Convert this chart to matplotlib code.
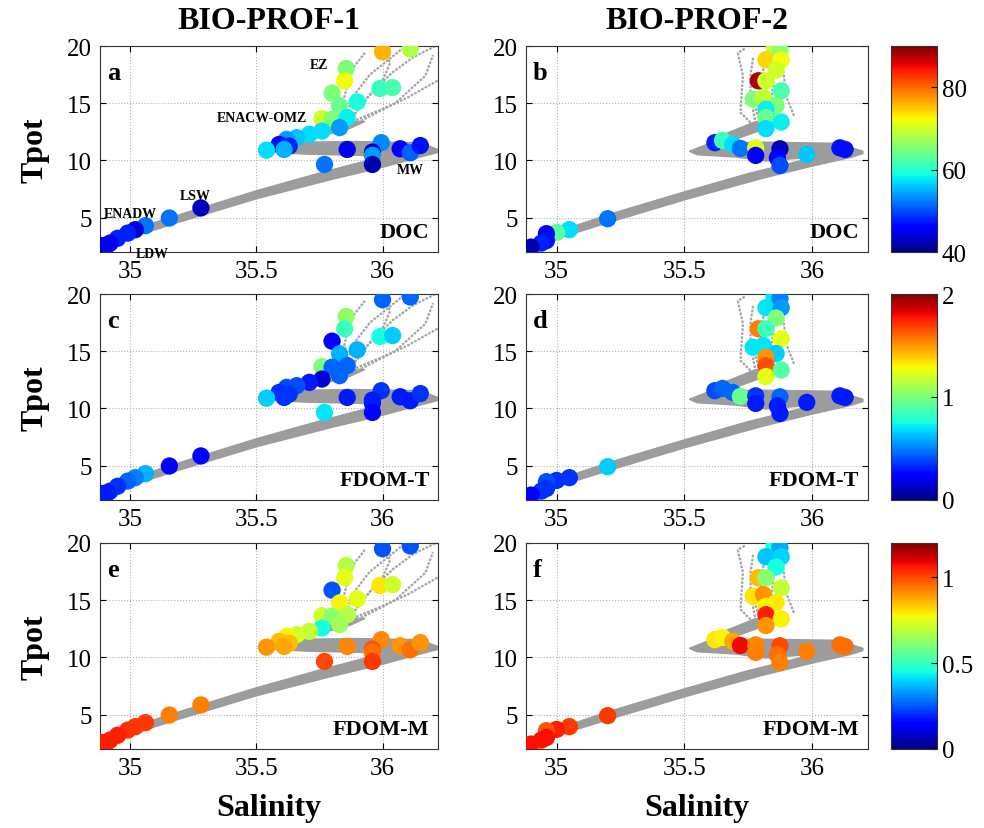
import matplotlib
matplotlib.use("Agg")
import matplotlib.pyplot as plt

plt.rcParams['font.family'] = ['Liberation Serif', 'DejaVu Serif']

# ---- BIO-PROF-1 samples ----
sal1 = [36.00, 36.11, 35.856, 35.85, 35.80, 35.99, 36.04, 35.83, 35.90, 35.76,
        35.80, 35.86, 35.83, 35.76, 35.71, 35.66, 35.62, 35.59, 35.63, 35.54,
        35.61, 35.86, 35.995, 35.96, 35.96, 35.96, 35.77, 36.07, 36.11, 36.15,
        35.28, 35.155, 35.06, 35.02, 34.99, 34.95, 34.92, 34.89, 34.91]
tpot1 = [19.5, 19.74, 18.04, 16.96, 15.88, 16.29, 16.37, 14.77, 15.12, 13.65,
         13.6, 13.74, 12.87, 12.57, 12.28, 11.99, 11.84, 11.4, 11.25, 10.9,
         10.96, 10.96, 11.55, 10.73, 10.44, 9.65, 9.65, 11.02, 10.67, 11.3,
         5.85, 4.97, 4.3, 3.95, 3.65, 3.2, 2.78, 2.57, 2.63]
doc1 = [76, 68, 65, 72, 65, 61, 62, 64, 59, 70,
        65, 58, 54, 57, 57, 56, 54, 47, 48, 57,
        55, 45, 53, 44, 54, 42, 52, 46, 51, 47,
        43, 52, 52, 44, 48, 48, 46, 43, 45]
fdomt1 = [0.45, 0.45, 1.05, 0.85, 0.25, 0.75, 0.65, 0.6, 0.6, 1.0,
          0.45, 0.45, 0.45, 0.15, 0.3, 0.4, 0.4, 0.35, 0.35, 0.65,
          0.35, 0.3, 0.35, 0.3, 0.3, 0.25, 0.7, 0.3, 0.3, 0.35,
          0.25, 0.25, 0.6, 0.5, 0.45, 0.35, 0.35, 0.3, 0.3]
fdomm1 = [0.25, 0.25, 0.68, 0.75, 0.25, 0.8, 0.72, 0.78, 0.75, 0.72,
          0.62, 0.68, 0.65, 0.45, 0.7, 0.72, 0.78, 0.85, 0.85, 0.9,
          0.88, 0.92, 0.92, 0.98, 0.95, 1.02, 1.0, 0.9, 0.95, 0.9,
          0.93, 0.93, 1.02, 1.02, 1.03, 1.05, 1.05, 1.05, 1.05]

# ---- BIO-PROF-2 samples ----
sal2 = [35.852, 35.875, 35.82, 35.88, 35.86, 35.79, 35.82, 35.88, 35.77, 35.81,
        35.86, 35.82, 35.82, 35.88, 35.82, 35.62, 35.65, 35.69, 35.72, 35.78,
        35.78, 35.875, 35.865, 35.875, 35.98, 36.11, 36.13,
        35.20, 35.05, 35.00, 34.96, 34.96, 34.94, 34.90]
tpot2 = [19.8, 19.6, 18.8, 18.8, 17.9, 16.96, 16.96, 16.08, 15.35, 15.5,
         14.8, 14.47, 13.74, 13.36, 12.78, 11.55, 11.75, 11.4, 11.05, 11.1,
         10.44, 11.02, 10.23, 9.56, 10.53, 11.1, 10.96,
         4.91, 3.95, 3.71, 3.6, 3.0, 2.78, 2.43]
doc2 = [69, 66, 74, 72, 70, 88, 70, 62, 65, 69,
        65, 58, 64, 58, 57, 48, 61, 57, 52, 71,
        46, 43, 46, 50, 56, 47, 47,
        52, 57, 63, 46, 47, 48, 42]
fdomt2 = [0.7, 0.5, 0.7, 0.55, 1.0, 1.55, 0.85, 1.25, 0.7, 0.7,
          0.65, 1.5, 1.65, 0.9, 1.25, 0.4, 0.45, 0.45, 0.95, 0.35,
          0.3, 0.45, 0.3, 0.3, 0.3, 0.3, 0.3,
          0.65, 0.35, 0.35, 0.4, 0.35, 0.35, 0.25]
fdomm2 = [0.45, 0.35, 0.38, 0.4, 0.45, 0.85, 0.62, 0.7, 0.8, 0.9,
          0.8, 0.78, 1.05, 0.78, 0.9, 0.8, 0.78, 0.88, 1.08, 0.92,
          0.93, 1.0, 0.95, 0.93, 0.93, 0.95, 0.95,
          1.02, 1.02, 1.05, 0.98, 1.07, 1.07, 1.07]

# ---- CTD background: envelope outlines (salinity, Tpot) ----
band1_s = [
    [34.88, 35.0, 35.2, 35.5, 35.75, 35.95, 36.1, 36.22, 36.22, 36.15, 36.0, 35.8, 35.5, 35.2, 35.0, 34.88],
    [36.22, 36.15, 35.9, 35.7, 35.62, 35.57, 35.7, 35.9, 36.05, 36.15],
    [35.6, 35.72, 35.87, 35.93, 35.85, 35.7, 35.62],
]
band1_t = [
    [2.7, 3.9, 5.3, 7.35, 8.9, 10.05, 10.75, 10.95, 10.7, 10.3, 9.4, 8.35, 6.65, 4.65, 3.25, 2.35],
    [10.95, 11.55, 11.65, 11.6, 11.2, 10.7, 10.55, 10.45, 10.35, 10.4],
    [11.3, 11.9, 12.8, 13.4, 13.45, 12.4, 11.7],
]
band2_s = [
    [34.88, 35.0, 35.2, 35.5, 35.75, 35.95, 36.1, 36.2, 36.2, 36.15, 36.0, 35.8, 35.5, 35.2, 35.0, 34.88],
    [36.2, 36.1, 35.8, 35.6, 35.52, 35.55, 35.7, 35.82, 35.9, 36.1],
    [35.6, 35.72, 35.82, 35.86, 35.78, 35.68, 35.6],
]
band2_t = [
    [2.65, 3.75, 5.25, 7.25, 8.85, 9.95, 10.6, 10.8, 10.6, 10.25, 9.5, 8.4, 6.55, 4.55, 3.15, 2.3],
    [10.8, 11.5, 11.6, 11.5, 10.8, 10.5, 10.3, 9.95, 10.1, 10.45],
    [11.4, 12.0, 12.8, 13.3, 13.4, 12.5, 11.8],
]
# thin CTD traces in the surface layer
trace1_s = [
    [35.84, 35.86, 35.88, 35.93],
    [35.87, 35.96, 36.04, 36.12, 36.21],
    [35.9, 36.05, 36.17, 36.2],
    [35.86, 35.92, 36.0, 36.03, 36.0],
    [35.88, 36.0, 36.1, 36.22],
    [35.85, 35.88, 35.95, 36.08],
]
trace1_t = [
    [14.8, 16.5, 18.0, 19.4],
    [13.5, 16.0, 17.7, 19.0, 20.0],
    [13.3, 15.0, 17.4, 19.2],
    [13.2, 15.0, 17.0, 18.5, 20.0],
    [13.4, 14.5, 15.5, 17.0],
    [13.3, 15.5, 17.5, 19.8],
]
trace2_s = [
    [35.76, 35.72, 35.73, 35.71, 35.74],
    [35.82, 35.8, 35.8, 35.82, 35.84],
    [35.93, 35.9, 35.89, 35.88],
    [35.78, 35.76, 35.76, 35.77],
    [35.86, 35.84, 35.85, 35.86],
    [35.8, 35.78, 35.79],
]
trace2_t = [
    [13.3, 14.2, 17.4, 19.4, 19.8],
    [13.0, 15.0, 17.0, 19.0, 20.0],
    [13.9, 15.6, 17.5, 18.6],
    [13.2, 15.5, 17.5, 19.0],
    [13.3, 15.0, 17.0, 19.5],
    [13.0, 14.5, 16.0],
]

# water mass labels for panel a
wm_names = ['EZ', 'ENACW-OMZ', 'MW', 'LSW', 'ENADW', 'LDW']
wm_s = [35.75, 35.52, 36.11, 35.257, 35.0, 35.086]
wm_t = [18.42, 13.74, 9.2, 6.96, 5.4, 1.9]

row_vars = [(doc1, doc2, 'DOC', 40, 90, [40, 60, 80], ['40', '60', '80']),
            (fdomt1, fdomt2, 'FDOM-T', 0, 2, [0, 1, 2], ['0', '1', '2']),
            (fdomm1, fdomm2, 'FDOM-M', 0, 1.2, [0, 0.5, 1], ['0', '0.5', '1'])]
letters = [['a', 'b'], ['c', 'd'], ['e', 'f']]

W, H = 984, 829
fig = plt.figure(figsize=(W / 100, H / 100), dpi=100)

col_left = [100, 526]
col_width = [338, 342]
row_top = [47, 295, 544]
row_h = 206
gray = '#9c9c9c'

for r in range(3):
    v1, v2, name, vmin, vmax, cticks, clabels = row_vars[r]
    sc = None
    for c in range(2):
        ax = fig.add_axes([col_left[c] / W, 1 - (row_top[r] + row_h) / H,
                           col_width[c] / W, row_h / H])
        if c == 0:
            bs, bt, ts, tt = band1_s, band1_t, trace1_s, trace1_t
            s, t, v = sal1, tpot1, v1
        else:
            bs, bt, ts, tt = band2_s, band2_t, trace2_s, trace2_t
            s, t, v = sal2, tpot2, v2
        for xs, ys in zip(bs, bt):
            ax.fill(xs, ys, color=gray, lw=1.0, ec=gray, zorder=2)
        for xs, ys in zip(ts, tt):
            ax.plot(xs, ys, color='#a5a5a5', lw=1.6, ls=(0, (1.2, 0.6)), zorder=2)
        sc = ax.scatter(s, t, c=v, cmap='jet', vmin=vmin, vmax=vmax,
                        s=155, edgecolors='none', zorder=3)
        ax.set_xlim(34.88, 36.22)
        ax.set_ylim(2, 20)
        ax.set_xticks([35, 35.5, 36])
        ax.set_xticklabels(['35', '35.5', '36'])
        ax.set_yticks([5, 10, 15, 20])
        ax.grid(True, ls=':', color='#b0b0b0', lw=0.8)
        ax.set_axisbelow(True)
        ax.tick_params(direction='in', top=True, right=True, labelsize=18,
                       length=4, pad=6)
        for sp in ax.spines.values():
            sp.set_color('#333333')
        ax.text(0.02, 0.873, letters[r][c], transform=ax.transAxes,
                fontsize=19, fontweight='bold', va='center', ha='left')
        ax.text(0.975, 0.095, name, transform=ax.transAxes, fontsize=16,
                fontweight='bold', va='center', ha='right')
        if c == 0:
            ax.set_ylabel('Tpot', fontsize=23, fontweight='bold', labelpad=12)
        if r == 0:
            ax.set_title('BIO-PROF-%d' % (c + 1), fontsize=23,
                         fontweight='bold', pad=13)
        if r == 2:
            ax.set_xlabel('Salinity', fontsize=23, fontweight='bold', labelpad=10)
        if r == 0 and c == 0:
            for nm, xs, ys in zip(wm_names, wm_s, wm_t):
                ax.text(xs, ys, nm, fontsize=10, fontweight='bold',
                        ha='center', va='center', clip_on=False, zorder=4)
    cax = fig.add_axes([891 / W, 1 - (row_top[r] + row_h) / H, 46 / W, row_h / H])
    cb = fig.colorbar(sc, cax=cax)
    cb.set_ticks(cticks)
    cb.set_ticklabels(clabels)
    cb.ax.tick_params(labelsize=18, direction='in', length=4)
    cb.outline.set_edgecolor('#333333')

fig.savefig('out.png', dpi=100)
